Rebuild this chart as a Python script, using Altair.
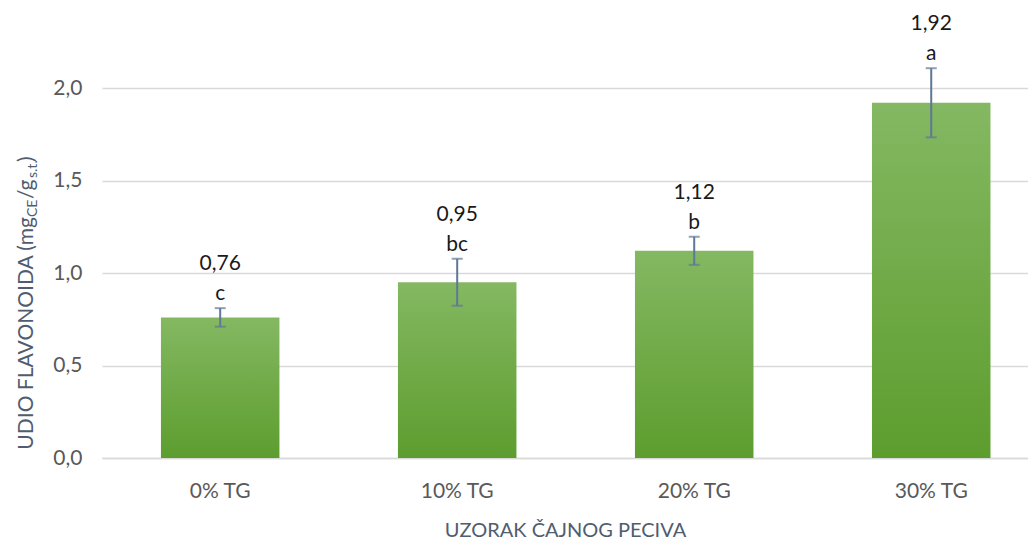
import altair as alt
import pandas as pd

groups = ["0% TG", "10% TG", "20% TG", "30% TG"]
means = [0.76, 0.95, 1.12, 1.92]
errors = [0.05, 0.127, 0.076, 0.187]
letters = ["c", "bc", "b", "a"]
value_labels = ["0,76", "0,95", "1,12", "1,92"]
y_ticks = [0, 0.5, 1.0, 1.5, 2.0]

df = pd.DataFrame({
    "group": groups,
    "mean": means,
    "lo": [m - e for m, e in zip(means, errors)],
    "hi": [m + e for m, e in zip(means, errors)],
    "letter": letters,
    "vlabel": value_labels,
})

FONT = "Lato"
x_scale = alt.Scale(domain=groups, paddingInner=0.5, paddingOuter=0.2035, align=0.611)
y_scale = alt.Scale(domain=[0, 2.4], nice=False, zero=True)

x_enc = alt.X("group:N", scale=x_scale, sort=groups, axis=alt.Axis(
    title="UZORAK ČAJNOG PECIVA", labelAngle=0, labelFont=FONT, labelFontSize=21,
    labelColor="#595959", labelPadding=22, ticks=False, domain=True,
    domainColor="#d9d9d9", domainWidth=1.5, titleFont=FONT, titleFontSize=20,
    titleFontWeight="normal", titleColor="#4f5d70", titlePadding=19))
y_axis = alt.Axis(values=y_ticks, labelExpr="replace(format(datum.value, '.1f'), '.', ',')",
                  labelFont=FONT, labelFontSize=21, labelColor="#595959", labelPadding=20,
                  ticks=False, domain=False, grid=True, gridColor="#d9d9d9", gridWidth=1.5,
                  title=None)

base = alt.Chart(df)

bars = base.mark_bar(
    color=alt.Gradient(gradient="linear", x1=0, x2=0, y1=0, y2=1,
                       stops=[alt.GradientStop(color="#84b862", offset=0),
                              alt.GradientStop(color="#5d9d2e", offset=1)])
).encode(x=x_enc, y=alt.Y("mean:Q", scale=y_scale, axis=y_axis))

err_col = "#5f7798"
rule = base.mark_rule(color=err_col, strokeWidth=2).encode(
    x=alt.X("group:N", scale=x_scale, sort=groups),
    y=alt.Y("lo:Q", scale=y_scale), y2="hi:Q")
cap_lo = base.mark_tick(color=err_col, thickness=2, size=11, orient="horizontal").encode(
    x=alt.X("group:N", scale=x_scale, sort=groups), y=alt.Y("lo:Q", scale=y_scale))
cap_hi = base.mark_tick(color=err_col, thickness=2, size=11, orient="horizontal").encode(
    x=alt.X("group:N", scale=x_scale, sort=groups), y=alt.Y("hi:Q", scale=y_scale))

letter_txt = base.mark_text(font=FONT, fontSize=21, color="#1a1a1a", dy=-14, baseline="middle").encode(
    x=alt.X("group:N", scale=x_scale, sort=groups), y=alt.Y("hi:Q", scale=y_scale), text="letter:N")
value_txt = base.mark_text(font=FONT, fontSize=21, color="#1a1a1a", dy=-44, baseline="middle").encode(
    x=alt.X("group:N", scale=x_scale, sort=groups), y=alt.Y("hi:Q", scale=y_scale), text="vlabel:N")

# y-axis title with subscripts, built from pieces
title_pieces = pd.DataFrame({
    "t": ["UDIO FLAVONOIDA (mg", "CE", "/g", "s.t.", ")"],
    "px": [-69, -65, -69, -65, -69],
    "py": [203, 203, 185, 164, 148],
    "size": [21, 14, 21, 14, 21],
    "al": ["right", "left", "left", "left", "left"],
})
tparts = []
for _, r in title_pieces.iterrows():
    tparts.append(alt.Chart(pd.DataFrame({"t": [r["t"]]})).mark_text(
        font=FONT, fontSize=int(r["size"]), color="#4f5d70", angle=270,
        align=r["al"], baseline="alphabetic").encode(
        x=alt.value(float(r["px"])), y=alt.value(float(r["py"])), text="t:N"))

chart = alt.layer(bars, rule, cap_lo, cap_hi, letter_txt, value_txt, *tparts).properties(
    width=926, height=444,
    padding={"left": 94, "top": 6, "right": 0, "bottom": 85},
    autosize=alt.AutoSizeParams(type="none"),
).configure_view(stroke=None)

chart.save("out.html", embed_options={"renderer": "svg", "actions": False})
